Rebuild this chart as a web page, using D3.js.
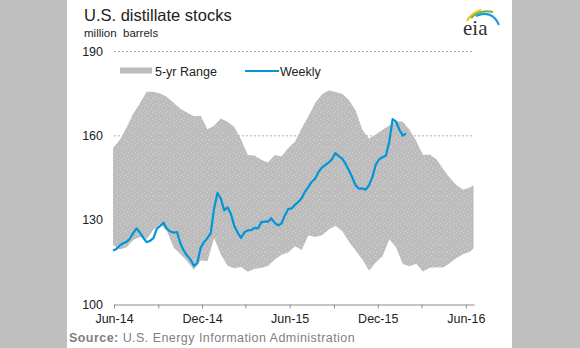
<!DOCTYPE html>
<html><head><meta charset="utf-8">
<script src="https://cdn.jsdelivr.net/npm/d3@7"></script>
<style>
html,body{margin:0;padding:0;background:#bfbfbf;}
svg{display:block;font-family:"Liberation Sans",Arial,sans-serif;}
</style></head>
<body>
<script>
// ---- data ----
const weeklyStart = "2014-05-30";           // first weekly observation (Friday)
const weeklyValues = [
119.0,119.6,120.8,121.6,122.1,123.2,125.3,126.9,125.4,123.5,
122.0,122.5,123.4,126.8,127.8,128.9,126.7,125.8,125.4,125.6,
121.5,119.0,117.2,115.8,113.6,114.5,120.0,122.0,123.4,125.2,
134.0,139.5,137.5,133.3,134.4,132.0,127.7,125.4,123.5,125.5,
126.2,126.3,127.1,126.9,129.1,129.3,129.3,130.5,128.8,128.0,
128.6,131.5,133.8,134.0,135.3,136.3,137.7,140.0,141.7,143.5,
144.6,147.0,148.5,149.4,150.4,151.5,153.7,152.6,151.7,149.9,
147.6,145.1,142.2,141.0,141.1,140.7,142.3,145.2,149.6,151.5,
152.2,152.8,157.8,165.8,164.9,162.0,159.9,160.7];
// 5-year range, sampled every two weeks from the same start, last point one week later
const rangeWeeks = [0,2,4,6,8,10,12,14,16,18,20,22,24,26,28,30,32,34,36,38,40,42,44,46,48,50,52,54,56,58,60,62,64,66,68,70,72,74,76,78,80,82,84,86,88,90,92,94,96,98,100,102,104,106,107];
const rangeHigh = [
155.5,158.3,162.8,167.8,171.5,175.5,175.5,174.9,173.6,171.6,
169.5,168.0,166.8,167.0,162.2,163.4,166.0,164.8,163.0,158.5,
153.0,152.8,151.3,150.3,153.0,152.5,155.5,157.7,162.5,166.8,
171.5,174.5,176.0,175.4,174.8,172.6,168.8,162.0,158.8,160.3,
162.0,163.5,165.0,164.8,162.0,158.0,153.0,153.2,151.5,148.0,
144.8,142.2,140.6,141.5,142.3];
const rangeLow = [
121.0,119.4,120.2,122.8,123.8,123.0,126.5,128.5,126.0,120.0,
117.8,115.2,112.2,115.5,115.2,123.5,117.6,113.6,112.7,113.2,
111.5,112.5,112.8,113.5,115.8,117.5,118.3,120.5,119.2,124.5,
123.8,124.5,126.5,127.8,126.0,122.2,119.0,115.8,111.8,114.8,
117.0,123.0,120.2,114.2,113.4,114.3,111.6,112.9,113.1,113.0,
114.6,116.4,117.8,118.6,119.8];
const yTicks = [100,130,160,190];
const gridValues = [130,160,190];
const xTickDates = ["2014-06-01","2014-09-01","2014-12-01","2015-03-01","2015-06-01","2015-09-01","2015-12-01","2016-03-01","2016-06-01"];
const xTickLabels = ["Jun-14","","Dec-14","","Jun-15","","Dec-15","","Jun-16"];
const xDomain = ["2014-06-01","2016-06-18"];
const yDomain = [100,190];
const legendLabels = ["5-yr Range","Weekly"];
const titleText = "U.S. distillate stocks";
const unitText = "million  barrels";
const sourceLabel = "Source:";
const sourceText = " U.S. Energy Information Administration";

// ---- drawing ----
const W = 580, H = 348;
const parse = d3.timeParse("%Y-%m-%d");
const start = parse(weeklyStart);
const weekly = weeklyValues.map((v,i)=>({d:d3.timeDay.offset(start,7*i), v}));
const range = rangeWeeks.map((w,i)=>({d:d3.timeDay.offset(start,7*w), lo:rangeLow[i], hi:rangeHigh[i]}));

const svg = d3.select("body").append("svg").attr("width",W).attr("height",H);
svg.append("rect").attr("x",0).attr("y",0).attr("width",W).attr("height",H).attr("fill","#bfbfbf");
svg.append("rect").attr("x",67).attr("y",0).attr("width",445).attr("height",H).attr("fill","#ffffff");

const x = d3.scaleTime().domain(xDomain.map(parse)).range([114,474]);
const y = d3.scaleLinear().domain(yDomain).range([304,51]);

// texture pattern
const defs = svg.append("defs");
const pat = defs.append("pattern").attr("id","speck").attr("patternUnits","userSpaceOnUse").attr("width",7).attr("height",7);
pat.append("rect").attr("width",7).attr("height",7).attr("fill","#bcbcbc");
[[1,1],[4,3],[2,5],[6,6],[5,0]].forEach(p=>pat.append("rect").attr("x",p[0]).attr("y",p[1]).attr("width",1).attr("height",1).attr("fill","#d2d2d2"));

// gridlines
svg.append("g").selectAll("line").data(gridValues).join("line")
  .attr("x1",114).attr("x2",474).attr("y1",d=>y(d)+0.5).attr("y2",d=>y(d)+0.5)
  .attr("stroke","#b0b0b0").attr("stroke-width",1).attr("stroke-dasharray","2,2");

// range area
svg.append("path").datum(range)
  .attr("d", d3.area().x(d=>x(d.d)).y0(d=>y(d.lo)).y1(d=>y(d.hi)))
  .attr("fill","url(#speck)");

// weekly line
svg.append("path").datum(weekly)
  .attr("d", d3.line().x(d=>x(d.d)).y(d=>y(d.v)))
  .attr("fill","none").attr("stroke","#0096d7").attr("stroke-width",2.2).attr("stroke-linejoin","round");

// x axis
const xa = svg.append("g").attr("transform","translate(0,304.5)")
  .call(d3.axisBottom(x).tickValues(xTickDates.map(parse)).tickSize(4).tickSizeOuter(0)
    .tickFormat((d,i)=>xTickLabels[i]));
xa.select(".domain").attr("stroke","#8c8c8c");
xa.selectAll(".tick line").attr("stroke","#8c8c8c");
xa.selectAll("text").attr("font-size",12.5).attr("fill","#222").attr("dy","0.95em")
  .attr("font-family","Liberation Sans, Arial, sans-serif");

// y axis
const ya = svg.append("g").attr("transform","translate(103,0)")
  .call(d3.axisLeft(y).tickValues(yTicks).tickSize(0).tickPadding(0));
ya.select(".domain").remove();
ya.selectAll("text").attr("font-size",12.5).attr("fill","#222")
  .attr("font-family","Liberation Sans, Arial, sans-serif");

// title
svg.append("text").attr("x",84).attr("y",21).attr("font-size",16.5).attr("fill","#222").text(titleText);
svg.append("text").attr("x",84).attr("y",37).attr("font-size",11.5).attr("fill","#222").style("white-space","pre").text(unitText);

// legend
svg.append("rect").attr("x",120).attr("y",67.5).attr("width",32).attr("height",6).attr("fill","#bcbcbc");
svg.append("text").attr("x",155).attr("y",75.5).attr("font-size",12.5).attr("fill","#222").text(legendLabels[0]);
svg.append("line").attr("x1",245).attr("x2",279).attr("y1",71).attr("y2",71).attr("stroke","#0096d7").attr("stroke-width",2);
svg.append("text").attr("x",280).attr("y",75.5).attr("font-size",12.5).attr("fill","#222").text(legendLabels[1]);

// source
const src = svg.append("text").attr("x",69).attr("y",342).attr("font-size",12.5).attr("fill","#808080")
  .attr("letter-spacing","0.45").style("white-space","pre");
src.append("tspan").attr("font-weight","bold").text(sourceLabel);
src.append("tspan").text(sourceText);

// eia logo
const logo = svg.append("g");
logo.append("path").attr("d","M467,21 Q471,13 481,10").attr("fill","none").attr("stroke","#f2c21b").attr("stroke-width",2);
logo.append("path").attr("d","M471,18 Q480,9 493,12").attr("fill","none").attr("stroke","#6cb33f").attr("stroke-width",2);
logo.append("path").attr("d","M476,16 Q492,9 499,25").attr("fill","none").attr("stroke","#1a9ad6").attr("stroke-width",2);
logo.append("text").attr("x",463).attr("y",35).attr("font-size",21).attr("fill","#333")
  .attr("font-family","Liberation Serif, 'DejaVu Serif', serif").text("eia");
</script>
</body></html>
